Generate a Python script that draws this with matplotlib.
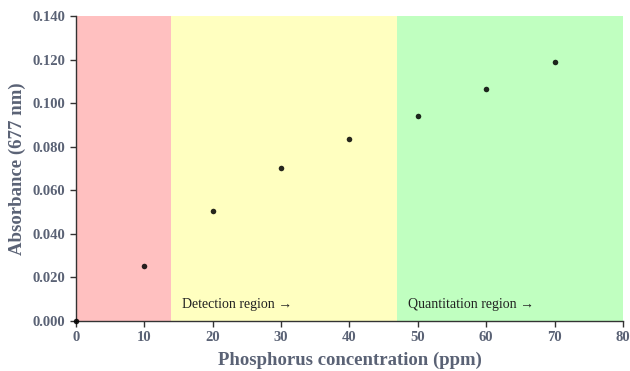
import matplotlib
matplotlib.use("Agg")
import matplotlib.pyplot as plt

conc = [0, 10, 20, 30, 40, 50, 60, 70]
absorb = [0.000, 0.0252, 0.0505, 0.0702, 0.0835, 0.0941, 0.1065, 0.1189]
regions = [(0, 13.9, "#ffc0c0"), (13.9, 47.0, "#ffffc0"), (47.0, 80, "#c0ffc0")]
region_labels = [(15.5, "Detection region \u2192"), (48.5, "Quantitation region \u2192")]
xticks = [0, 10, 20, 30, 40, 50, 60, 70, 80]
yticks = [0.0, 0.02, 0.04, 0.06, 0.08, 0.10, 0.12, 0.14]

plt.rcParams['font.family'] = ['Liberation Serif', 'DejaVu Serif']
fig = plt.figure(figsize=(6.3, 3.71), dpi=100)
ax = fig.add_axes([0.1206, 0.1348, 0.8683, 0.8221])

for x0, x1, c in regions:
    ax.axvspan(x0, x1, color=c, lw=0, zorder=0)
for x, t in region_labels:
    ax.text(x, 0.0045, t, fontsize=10, color="#222222", va="bottom", ha="left")

ax.scatter(conc, absorb, s=16, color="black", alpha=0.85, zorder=3, clip_on=False, linewidths=0)

ax.set_xlim(0, 80)
ax.set_ylim(0, 0.14)
ax.set_xticks(xticks)
ax.set_yticks(yticks)
ax.set_yticklabels([f"{v:.3f}" for v in yticks])
tick_col = "#5a6275"
ax.tick_params(axis="both", direction="out", length=4, width=1, colors="#333333",
               labelcolor=tick_col, labelsize=10.5)
for lab in ax.get_xticklabels() + ax.get_yticklabels():
    lab.set_fontweight("bold")
ax.spines["top"].set_visible(False)
ax.spines["right"].set_visible(False)
for s in ("left", "bottom"):
    ax.spines[s].set_color("#333333")
    ax.spines[s].set_linewidth(1)

ax.set_xlabel("Phosphorus concentration (ppm)", fontsize=13.5, fontweight="bold", color=tick_col, labelpad=5)
ax.set_ylabel("Absorbance (677 nm)", fontsize=13.5, fontweight="bold", color=tick_col, labelpad=5)

fig.savefig("out.png", dpi=100)
